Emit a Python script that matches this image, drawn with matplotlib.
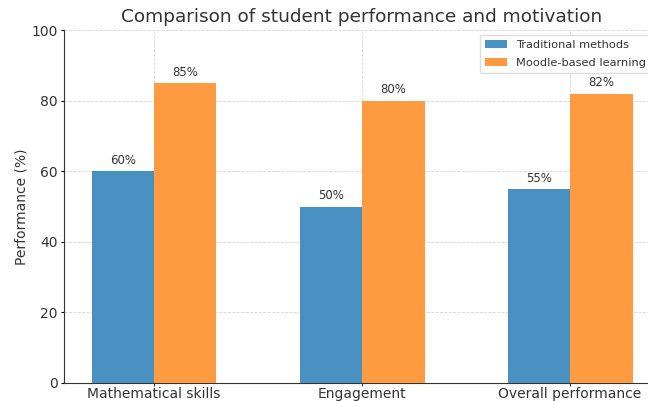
import numpy as np
import matplotlib.pyplot as plt

categories = ['Mathematical skills', 'Engagement', 'Overall performance']
traditional = [60, 50, 55]
moodle = [85, 80, 82]
series_names = ['Traditional methods', 'Moodle-based learning']

text_color = '#333333'
blue = '#4a91c3'
orange = '#fe9a40'

fig = plt.figure(figsize=(6.48, 4.01), dpi=100)
# axes run slightly past the right edge of the figure
ax = fig.add_axes([0.0988, 0.0449, 0.920, 0.880])

x = np.arange(len(categories))
width = 0.3

bars1 = ax.bar(x - width / 2, traditional, width, color=blue, label=series_names[0], zorder=3)
bars2 = ax.bar(x + width / 2, moodle, width, color=orange, label=series_names[1], zorder=3)

for bars in (bars1, bars2):
    for b in bars:
        ax.text(b.get_x() + b.get_width() / 2, b.get_height() + 1.2, f'{b.get_height():.0f}%',
                ha='center', va='bottom', fontsize=8.5, color=text_color)

ax.set_xlim(-0.433, 2.433)
ax.set_ylim(0, 100)
ax.set_xticks(x)
ax.set_xticklabels(categories, fontsize=10, color=text_color)
ax.tick_params(axis='y', labelsize=10, labelcolor=text_color, length=2.5, pad=2)
ax.tick_params(axis='x', length=2, pad=1, color=text_color)
ax.set_ylabel('Performance (%)', fontsize=10, color=text_color, labelpad=2)
ax.set_title('Comparison of student performance and motivation', fontsize=13.3, color=text_color, pad=6)

ax.grid(True, linestyle='--', linewidth=0.6, color='#d4d4d4', zorder=0)
for side in ('top', 'right'):
    ax.spines[side].set_visible(False)
for side in ('left', 'bottom'):
    ax.spines[side].set_color(text_color)

ax.legend(loc='upper left', bbox_to_anchor=(480 / 648, 1 - 35 / 401), bbox_transform=fig.transFigure,
          fontsize=8.2, framealpha=1, edgecolor='#dddddd', fancybox=True, labelspacing=0.75,
          handlelength=2.0, borderaxespad=0, labelcolor=text_color)

fig.savefig('out.png', dpi=100)
